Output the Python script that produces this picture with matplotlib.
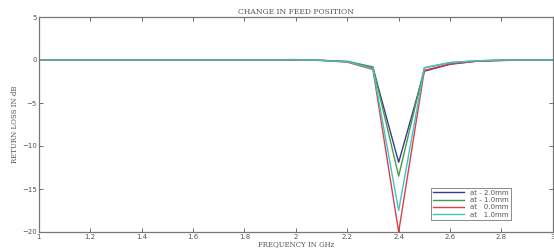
import matplotlib
matplotlib.use("Agg")
import matplotlib.pyplot as plt

freq = [1.0, 1.1, 1.2, 1.3, 1.4, 1.5, 1.6, 1.7, 1.8, 1.9, 2.0,
        2.1, 2.2, 2.3, 2.4, 2.5, 2.6, 2.7, 2.8, 2.9, 3.0]

rl_m20 = [0, 0, 0, 0, 0, 0, 0, 0, 0, 0, 0.02,
          -0.05, -0.2, -0.9, -11.9, -1.3, -0.5, -0.15, -0.05, 0, 0]
rl_m10 = [0, 0, 0, 0, 0, 0, 0, 0, 0, 0.02, 0.05,
          -0.03, -0.15, -0.8, -13.5, -0.9, -0.3, -0.1, 0, 0, 0]
rl_00 = [0, 0, 0, 0, 0, 0, 0, 0, 0, 0, 0,
         -0.05, -0.25, -1.1, -20.0, -1.2, -0.45, -0.15, -0.05, 0, 0]
rl_10 = [0, 0, 0, 0, 0, 0, 0, 0, 0, 0, 0.02,
         -0.04, -0.2, -1.0, -17.5, -0.9, -0.3, -0.1, 0, 0, 0]

labels = ["at - 2.0mm", "at - 1.0mm", "at   0.0mm", "at   1.0mm"]
colors = ["#3a3a8c", "#4a9a4a", "#d9404f", "#40c4c4"]

fig = plt.figure(figsize=(5.54, 2.5), dpi=100)
ax = fig.add_axes([0.070, 0.072, 0.928, 0.860])

for ys, lab, c in zip([rl_m20, rl_m10, rl_00, rl_10], labels, colors):
    ax.plot(freq, ys, color=c, lw=1.0, label=lab)

ax.set_xlim(1, 3)
ax.set_ylim(-20, 5)
ax.set_xticks([1, 1.2, 1.4, 1.6, 1.8, 2, 2.2, 2.4, 2.6, 2.8, 3])
ax.set_xticklabels(["1", "1.2", "1.4", "1.6", "1.8", "2", "2.2", "2.4", "2.6", "2.8", "3"])
ax.set_yticks([-20, -15, -10, -5, 0, 5])
ax.tick_params(direction="in", top=True, right=True, labelsize=5, colors="#555555",
               length=3, width=0.6, pad=1.5)
for s in ax.spines.values():
    s.set_color("#777777")
    s.set_linewidth(0.9)

ax.set_title("CHANGE IN FEED POSITION", fontsize=5.5, family="DejaVu Serif",
             color="#555555", pad=2)
ax.set_xlabel("FREQUENCY IN GHz", fontsize=5, family="DejaVu Serif",
              color="#555555", labelpad=0)
ax.set_ylabel("RETURN LOSS IN dB", fontsize=5, family="DejaVu Serif",
              color="#555555", labelpad=2)

leg = ax.legend(loc="lower right", bbox_to_anchor=(0.925, 0.04), fontsize=5,
                frameon=True, fancybox=False, edgecolor="#555555",
                handlelength=4.5, borderpad=0.3, labelspacing=0.2)
leg.get_frame().set_linewidth(0.6)
for t in leg.get_texts():
    t.set_color("#555555")

fig.savefig("out.png", dpi=100)
